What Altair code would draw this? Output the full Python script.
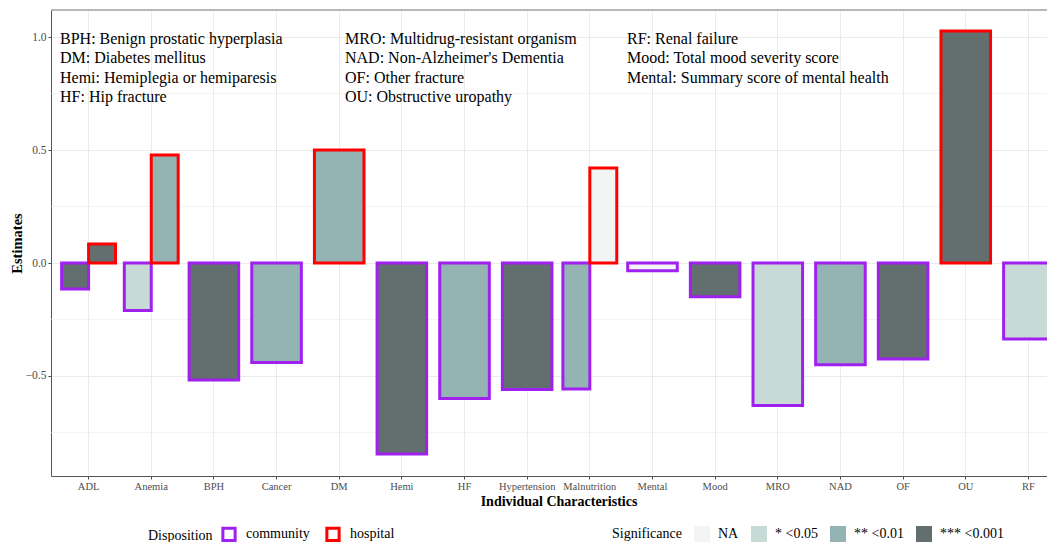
import altair as alt
import pandas as pd

CATEGORIES = ["ADL", "Anemia", "BPH", "Cancer", "DM", "Hemi", "HF", "Hypertension",
              "Malnutrition", "Mental", "Mood", "MRO", "NAD", "OF", "OU", "RF"]

category = ["ADL", "ADL", "Anemia", "Anemia", "BPH", "Cancer", "DM", "Hemi", "HF",
            "Hypertension", "Malnutrition", "Malnutrition", "Mental", "Mood", "MRO",
            "NAD", "OF", "OU", "RF"]
disposition = ["community", "hospital", "community", "hospital", "community", "community",
               "hospital", "community", "community", "community", "community", "hospital",
               "community", "community", "community", "community", "community", "hospital",
               "community"]
estimate = [-0.115, 0.084, -0.21, 0.478, -0.518, -0.44, 0.50, -0.845, -0.60, -0.56,
            -0.557, 0.42, -0.034, -0.149, -0.63, -0.45, -0.425, 1.027, -0.336]
significance = ["*** <0.001", "*** <0.001", "* <0.05", "** <0.01", "*** <0.001", "** <0.01",
                "** <0.01", "*** <0.001", "** <0.01", "*** <0.001", "** <0.01", "NA", "NA",
                "*** <0.001", "* <0.05", "** <0.01", "*** <0.001", "*** <0.001", "* <0.05"]

SIG_LEVELS = ["NA", "* <0.05", "** <0.01", "*** <0.001"]
SIG_COLORS = ["#f2f5f4", "#c8dad5", "#94b4b3", "#636f6f"]
DISP_LEVELS = ["community", "hospital"]
DISP_COLORS = ["#a020f0", "#ff0000"]

NOTES_1 = ["BPH: Benign prostatic hyperplasia", "DM: Diabetes mellitus",
           "Hemi: Hemiplegia or hemiparesis", "HF: Hip fracture"]
NOTES_2 = ["MRO: Multidrug-resistant organism", "NAD: Non-Alzheimer's Dementia",
           "OF: Other fracture", "OU: Obstructive uropathy"]
NOTES_3 = ["RF: Renal failure", "Mood: Total mood severity score",
           "Mental: Summary score of mental health"]

MINOR_GRID = [-0.75, -0.25, 0.25, 0.75]
Y_TICKS = [-0.5, 0.0, 0.5, 1.0]

df = pd.DataFrame({"category": category, "disposition": disposition,
                   "estimate": estimate, "significance": significance})
df["n"] = df.groupby("category")["category"].transform("count")
pairs = df[df["n"] > 1]
singles = df[df["n"] == 1]

FONT = "Liberation Serif"
W, H = 996, 466

xscale = alt.Scale(domain=CATEGORIES, range=[0, 1015], paddingInner=0.14, paddingOuter=0.17)
yscale = alt.Scale(domain=[-0.9425, 1.1195], nice=False, zero=False)

xenc = alt.X("category:N", scale=xscale, sort=CATEGORIES,
             axis=alt.Axis(title="Individual Characteristics", labelAngle=0, grid=True,
                           gridColor="#ebebeb", gridWidth=1,
                           labelFont=FONT, labelFontSize=10.5, labelColor="#4d4d4d",
                           tickColor="#4d4d4d", tickSize=3, labelPadding=2,
                           domainColor="#555555", titleFont=FONT, titleFontSize=14,
                           titleFontWeight="bold", titleColor="black", titlePadding=3))
yenc = alt.Y("estimate:Q", scale=yscale,
             axis=alt.Axis(title="Estimates", values=Y_TICKS, format=".1f", grid=True,
                           gridColor="#ebebeb", gridWidth=1,
                           labelFont=FONT, labelFontSize=11.5, labelColor="#4d4d4d",
                           tickColor="#4d4d4d", tickSize=3, labelPadding=2,
                           domainColor="#555555", titleFont=FONT, titleFontSize=14.5,
                           titleFontWeight="bold", titleColor="black", titlePadding=1))

fill_enc = alt.Fill("significance:N",
                    scale=alt.Scale(domain=SIG_LEVELS, range=SIG_COLORS),
                    legend=alt.Legend(title="Significance", orient="none", legendX=561,
                                      legendY=516, direction="horizontal", titleOrient="left",
                                      symbolType="square", symbolSize=256,
                                      symbolStrokeWidth=0, titlePadding=12,
                                      columnPadding=12, labelOffset=8))
stroke_enc = alt.Stroke("disposition:N",
                        scale=alt.Scale(domain=DISP_LEVELS, range=DISP_COLORS),
                        legend=alt.Legend(title="Disposition", orient="none", legendX=97,
                                          legendY=516, direction="horizontal",
                                          titleOrient="left", symbolType="square",
                                          symbolSize=150, symbolStrokeWidth=3,
                                          symbolFillColor="white", titlePadding=8,
                                          columnPadding=10, labelOffset=9))

minor = alt.Chart(pd.DataFrame({"v": MINOR_GRID})).mark_rule(
    color="#ebebeb", strokeWidth=0.6).encode(y=alt.Y("v:Q", scale=yscale))

bars_pair = alt.Chart(pairs).mark_bar(strokeWidth=3, clip=True).encode(
    x=xenc, xOffset=alt.XOffset("disposition:N", scale=alt.Scale(domain=DISP_LEVELS, paddingInner=0, paddingOuter=0)),
    y=yenc, fill=fill_enc, stroke=stroke_enc)

bars_single = alt.Chart(singles).mark_bar(strokeWidth=3, clip=True,
                                          width=alt.RelativeBandSize(0.92)).encode(
    x=xenc, y=yenc, fill=fill_enc, stroke=stroke_enc)

top_border = alt.Chart(pd.DataFrame({"a": [0]})).mark_rule(color="#a0a0a0", strokeWidth=1.5).encode(
    x=alt.value(0), x2=alt.value(W), y=alt.value(0))


def notes(lines, px):
    return alt.Chart(pd.DataFrame({"t": ["\n".join(lines)]})).mark_text(
        align="left", baseline="alphabetic", font=FONT, fontSize=16, lineHeight=19.5,
        lineBreak="\n", color="black").encode(x=alt.value(px), y=alt.value(33.5), text="t:N")


chart = alt.layer(minor, bars_pair, bars_single, top_border,
                  notes(NOTES_1, 9), notes(NOTES_2, 294), notes(NOTES_3, 576)).properties(
    width=W, height=H,
    autosize=alt.AutoSizeParams(type="none"),
    padding={"left": 43, "top": 2, "right": 0, "bottom": 66},
).configure_view(stroke=None).configure_legend(
    labelFont=FONT, labelFontSize=14, labelColor="black",
    titleFont=FONT, titleFontSize=14, titleFontWeight="normal", titleColor="black",
    titleBaseline="middle", titleAnchor="middle")

chart.save("out.html", embed_options={"renderer": "svg", "actions": False})
